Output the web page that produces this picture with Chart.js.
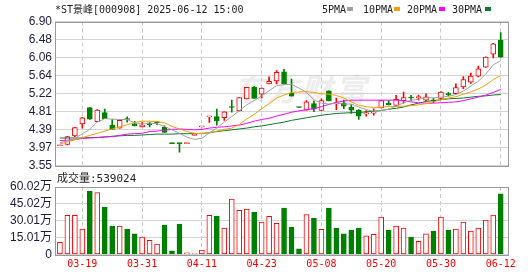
<!DOCTYPE html>
<html><head><meta charset="utf-8">
<script src="https://cdn.jsdelivr.net/npm/chart.js@4/dist/chart.umd.min.js"></script>
<style>
html,body{margin:0;padding:0;background:#fff;}
#wrap{position:relative;width:530px;height:276px;overflow:hidden;}
canvas{position:absolute;left:0;top:0;}
.t{position:absolute;white-space:nowrap;font-family:"DejaVu Sans Mono","Noto Sans CJK SC",monospace;font-size:10px;color:#222;line-height:12px;}
.wm{position:absolute;left:233px;top:72px;font:italic bold 31px/32px "Noto Sans CJK SC";color:#ededed;letter-spacing:3px;white-space:nowrap;}
.sq{position:absolute;width:6px;height:4px;}
</style></head><body>
<div id="wrap">
<div class="wm">东方财富</div>
<canvas id="main" width="530" height="276"></canvas>
<canvas id="vol" width="530" height="276"></canvas>
<div class="t" style="left:55px;top:4px;">*ST景峰[000908] 2025-06-12 15:00</div>
<div id="legend"></div>
<div class="t" id="vlabel" style="left:57px;top:173px;font-size:11px;"></div>
</div>
<script>
// ---- data ----
const dates = ['03-14','03-17','03-18','03-19','03-20','03-21','03-24','03-25','03-26','03-27','03-28','03-31','04-01','04-02','04-03','04-07','04-08','04-09','04-10','04-11','04-14','04-15','04-16','04-17','04-18','04-21','04-22','04-23','04-24','04-25','04-28','04-29','04-30','05-06','05-07','05-08','05-09','05-12','05-13','05-14','05-15','05-16','05-19','05-20','05-21','05-22','05-23','05-26','05-27','05-28','05-29','05-30','06-03','06-04','06-05','06-06','06-09','06-10','06-11','06-12'];
const opens  = [4.01,4.04,4.24,4.52,4.90,4.57,4.78,4.49,4.42,4.63,4.52,4.45,4.51,4.55,4.44,4.07,4.07,4.06,4.25,4.45,4.68,4.69,4.66,4.92,4.82,5.10,5.37,5.21,5.45,5.52,5.73,5.23,4.91,4.84,4.99,4.83,5.29,4.98,5.00,4.91,4.84,4.75,4.77,4.89,5.00,4.95,5.06,5.14,5.13,5.07,5.07,5.11,5.21,5.22,5.38,5.49,5.63,5.84,6.14,6.47];
const highs  = [4.02,4.23,4.44,4.67,4.90,4.85,4.86,4.62,4.61,4.68,4.58,4.55,4.56,4.58,4.47,4.07,4.07,4.07,4.27,4.46,4.69,4.86,4.80,5.07,5.13,5.37,5.39,5.35,5.61,5.76,5.79,5.56,4.91,5.06,5.05,5.10,5.29,5.12,5.07,4.97,4.85,4.83,4.87,5.06,5.06,5.18,5.26,5.18,5.19,5.22,5.12,5.27,5.25,5.45,5.62,5.70,5.86,6.08,6.39,6.64];
const lows   = [4.01,4.03,4.22,4.42,4.62,4.57,4.64,4.39,4.42,4.56,4.47,4.45,4.45,4.50,4.32,4.06,3.86,4.06,4.25,4.45,4.55,4.49,4.60,4.79,4.82,5.10,5.11,5.12,5.45,5.45,5.45,5.16,4.90,4.84,4.80,4.83,5.05,4.85,4.87,4.76,4.62,4.70,4.72,4.89,4.96,4.95,5.00,5.05,5.07,5.05,5.01,5.08,5.17,5.21,5.34,5.46,5.61,5.83,6.05,6.07];
const closes = [4.02,4.22,4.43,4.66,4.63,4.84,4.64,4.39,4.60,4.62,4.47,4.49,4.50,4.54,4.32,4.06,4.06,4.07,4.27,4.46,4.69,4.59,4.80,4.90,5.13,5.37,5.11,5.35,5.51,5.72,5.45,5.16,4.90,5.03,4.86,5.06,5.05,5.01,4.93,4.84,4.70,4.77,4.79,5.06,4.96,5.09,5.13,5.12,5.14,5.15,5.05,5.26,5.20,5.36,5.55,5.63,5.80,6.07,6.38,6.07];
const volumes = [109000,348000,348000,227000,562000,551000,421000,253000,253000,227000,183000,156000,127000,92000,262000,33000,270000,15000,6000,39000,348000,342000,236000,492000,392000,403000,377000,289000,339000,277000,412000,244000,50000,356000,324000,224000,412000,236000,183000,218000,236000,165000,180000,333000,218000,253000,236000,156000,118000,183000,209000,333000,218000,227000,289000,209000,236000,306000,350000,539024];
// volume bar direction (1 = red/up, 0 = green/down)
const volUp = [1,1,1,1,0,1,0,0,1,0,0,1,1,1,0,0,0,1,1,1,1,0,1,1,1,1,0,1,1,1,0,0,0,1,0,1,0,0,0,0,0,1,1,1,0,1,1,0,1,1,0,1,0,1,1,1,1,1,1,0];
const ma5  = [4.08,4.12,4.18,4.29,4.39,4.56,4.64,4.63,4.62,4.62,4.54,4.51,4.54,4.52,4.46,4.38,4.30,4.21,4.16,4.18,4.31,4.42,4.56,4.69,4.82,4.96,5.06,5.17,5.29,5.41,5.43,5.44,5.35,5.25,5.08,5.00,4.98,5.00,4.98,4.98,4.91,4.85,4.81,4.83,4.86,4.93,5.01,5.07,5.09,5.13,5.12,5.14,5.16,5.20,5.28,5.40,5.51,5.68,5.89,5.99];
const ma10 = [4.05,4.10,4.15,4.20,4.25,4.30,4.35,4.40,4.45,4.50,4.55,4.58,4.58,4.57,4.54,4.46,4.40,4.34,4.30,4.29,4.31,4.35,4.39,4.42,4.50,4.63,4.74,4.87,4.99,5.12,5.19,5.25,5.26,5.27,5.25,5.22,5.21,5.18,5.12,5.03,4.95,4.92,4.90,4.91,4.92,4.92,4.93,4.94,4.96,4.99,5.03,5.08,5.12,5.15,5.21,5.26,5.33,5.42,5.55,5.64];
const ma20 = [4.13,4.14,4.15,4.18,4.19,4.20,4.22,4.22,4.25,4.28,4.29,4.30,4.34,4.35,4.37,4.39,4.40,4.39,4.38,4.39,4.42,4.44,4.45,4.47,4.49,4.53,4.58,4.62,4.65,4.70,4.74,4.79,4.82,4.85,4.87,4.92,4.97,5.02,5.05,5.07,5.07,5.07,5.07,5.07,5.07,5.07,5.06,5.03,5.01,5.00,5.00,5.01,5.02,5.03,5.06,5.10,5.14,5.19,5.25,5.32];
const ma30 = [4.19,4.19,4.19,4.19,4.20,4.20,4.21,4.23,4.24,4.25,4.25,4.26,4.27,4.28,4.28,4.28,4.29,4.29,4.29,4.30,4.31,4.34,4.36,4.38,4.40,4.42,4.45,4.47,4.50,4.53,4.56,4.60,4.63,4.66,4.69,4.72,4.74,4.76,4.77,4.78,4.78,4.80,4.81,4.83,4.86,4.88,4.91,4.96,5.00,5.04,5.06,5.08,5.10,5.11,5.12,5.14,5.16,5.17,5.19,5.20];
const xTickDates = ['03-19','03-31','04-11','04-23','05-08','05-20','05-30','06-12'];
const priceTicks = [3.55,3.97,4.39,4.81,5.22,5.64,6.06,6.48,6.90];
const volTicks = [0,150050,300100,450150,600200];
const volTickLabels = ['0','15.01万','30.01万','45.02万','60.02万'];
const maNames = ['5PMA','10PMA','20PMA','30PMA'];
const maColors = ['#a0a0a0','#f5a000','#ff00ff','#0a7a2c'];

// ---- styles ----
const RED = '#ff0000', GREEN = '#008000';
const up = closes.map((c,i)=> c >= opens[i]);
const xTickIdx = xTickDates.map(d => dates.indexOf(d));
const X_MIN = -0.66, X_MAX = 60.11;
const labelColor = '#1c1c3c';
const numFont = {family:'"Liberation Sans","Noto Sans CJK SC",sans-serif', size:12};

const frame = {
  id:'frame',
  afterDraw(chart){
    const {ctx, chartArea:a} = chart;
    ctx.save();
    ctx.strokeStyle = '#999';
    ctx.lineWidth = 1;
    ctx.strokeRect(Math.round(a.left)+0.5, Math.round(a.top)+0.5, Math.round(a.right-a.left)-1, Math.round(a.bottom-a.top));
    ctx.restore();
  }
};

function xScale(showLabels, h){
  return {
    type:'linear', min:X_MIN, max:X_MAX, offset:false,
    afterBuildTicks: s => { s.ticks = xTickIdx.map(v => ({value:v})); },
    ticks:{display:showLabels, autoSkip:false, maxRotation:0, padding:4, color:RED,
      font:{family:'"DejaVu Sans Mono",monospace', size:10},
      callback: v => dates[v]},
    grid:{color:'#c8c8c8', drawTicks:false, offset:false},
    border:{display:false, dash:[4,3]},
    afterFit: s => { s.height = h; }
  };
}

Chart.defaults.font.family = numFont.family;

// ---- main candle chart ----
const idx = dates.map((d,i)=>i);
new Chart(document.getElementById('main'), {
  type:'bar',
  data:{datasets:[
    ...maNames.map((n,k)=>({
      type:'line', label:n, order:1,
      data: idx.map(i=>({x:i, y:[ma5,ma10,ma20,ma30][k][i]})),
      borderColor: maColors[k], borderWidth:1, pointRadius:0, tension:0, fill:false
    })),
    { label:'body', order:2, grouped:false, barThickness:5, minBarLength:1,
      data: idx.map(i=>({x:i, y:[opens[i], closes[i]]})),
      backgroundColor: up.map(u=> u ? '#ffffff' : GREEN),
      borderColor: up.map(u=> u ? RED : GREEN),
      borderWidth:1, borderSkipped:false },
    { label:'wick', order:3, grouped:false, barThickness:1,
      data: idx.map(i=>({x:i, y:[lows[i], highs[i]]})),
      backgroundColor: up.map(u=> u ? RED : GREEN), borderWidth:0 }
  ]},
  options:{
    responsive:false, animation:false,
    layout:{padding:{top:21.5, bottom:110.5, left:0, right:21}},
    plugins:{legend:{display:false}, tooltip:{enabled:false}},
    scales:{
      x: xScale(false, 0),
      y:{min:3.55, max:6.90, beginAtZero:false,
        afterBuildTicks: s => { s.ticks = priceTicks.map(v=>({value:v})); },
        ticks:{color:labelColor, font:numFont, padding:3, autoSkip:false, callback: v => v.toFixed(2)},
        grid:{color:'#d4d4d4', drawTicks:false},
        border:{display:false},
        afterFit: s => { s.width = 55; }
      }
    }
  },
  plugins:[frame]
});

// ---- volume chart ----
new Chart(document.getElementById('vol'), {
  type:'bar',
  data:{datasets:[{
    label:'vol', grouped:false, barThickness:5, minBarLength:1,
    data: idx.map(i=>({x:i, y:volumes[i]})),
    backgroundColor: volUp.map(u=> u ? '#ffffff' : GREEN),
    borderColor: volUp.map(u=> u ? RED : GREEN),
    borderWidth:1, borderSkipped:false
  }]},
  options:{
    responsive:false, animation:false,
    layout:{padding:{top:187, bottom:0, left:0, right:21}},
    plugins:{legend:{display:false}, tooltip:{enabled:false}},
    scales:{
      x: xScale(true, 21.5),
      y:{min:0, max:600200, beginAtZero:true,
        afterBuildTicks: s => { s.ticks = volTicks.map(v=>({value:v})); },
        ticks:{color:labelColor, font:numFont, padding:3, autoSkip:false, callback: (v) => volTickLabels[volTicks.indexOf(v)]},
        grid:{color:'#d4d4d4', drawTicks:false},
        border:{display:false},
        afterFit: s => { s.width = 55; }
      }
    }
  },
  plugins:[frame]
});

// ---- texts ----
document.getElementById('vlabel').textContent = '成交量:' + volumes[volumes.length-1];
const lg = document.getElementById('legend');
const textX = [322,363,407,452], sqX = [347,394,439,485];
maNames.forEach((n,k)=>{
  const t = document.createElement('div'); t.className='t'; t.style.left=textX[k]+'px'; t.style.top='4px'; t.textContent=n; lg.appendChild(t);
  const s = document.createElement('div'); s.className='sq'; s.style.left=sqX[k]+'px'; s.style.top='7px'; s.style.background=maColors[k]; lg.appendChild(s);
});
</script>
</body></html>
